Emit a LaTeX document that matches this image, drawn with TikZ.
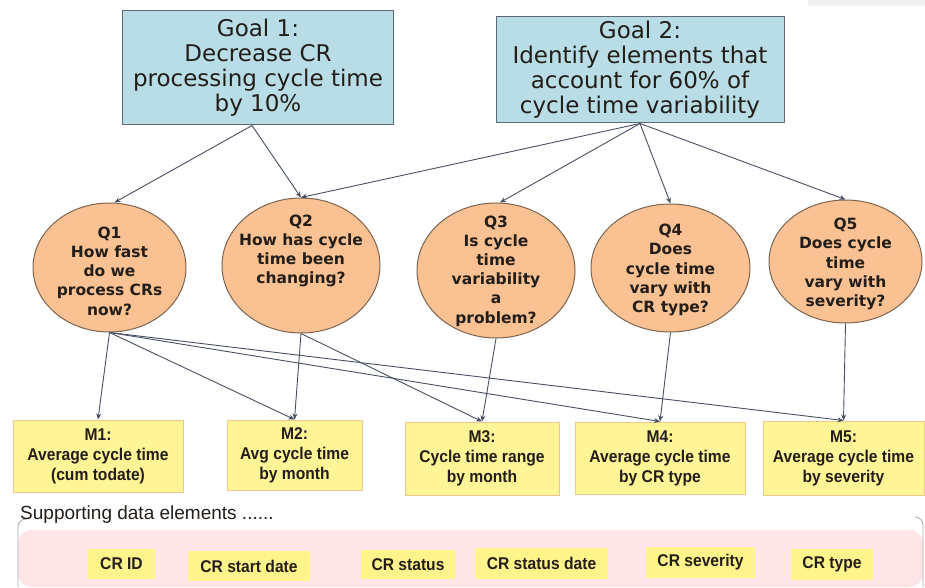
\documentclass[tikz,border=0pt]{standalone}
\usepackage{fontspec}
\setmainfont{DejaVu Sans}
\newfontfamily\mfont[FakeStretch=0.92]{Liberation Sans}
\newfontfamily\lsfont{Liberation Sans}
\usetikzlibrary{shapes.geometric,arrows.meta}
\definecolor{goalfill}{RGB}{184,221,230}
\definecolor{goalline}{RGB}{95,105,115}
\definecolor{qfill}{RGB}{250,194,146}
\definecolor{qline}{RGB}{125,100,80}
\definecolor{mfill}{RGB}{255,244,150}
\definecolor{mline}{RGB}{240,200,140}
\definecolor{dfill}{RGB}{255,244,140}
\definecolor{pinkfill}{RGB}{253,229,232}
\definecolor{lc}{RGB}{70,80,98}
\definecolor{txt}{RGB}{35,30,25}
\tikzset{
  goalbox/.style={draw=goalline, fill=goalfill, line width=1pt, inner sep=0pt,
    font=\fontsize{23}{25}\selectfont, align=center, text=txt},
  qell/.style={ellipse, draw=qline, fill=qfill, line width=1pt, inner sep=0pt},
  qtext/.style={font=\bfseries\fontsize{15.5}{19.2}\selectfont, align=center, text=txt, inner sep=0pt},
  mbox/.style={rectangle, draw=mline, fill=mfill, line width=1pt, inner sep=0pt,
    font=\mfont\bfseries\fontsize{17}{20}\selectfont, align=center, text=txt},
  ditem/.style={rectangle, fill=dfill, inner sep=0pt,
    font=\mfont\bfseries\fontsize{17}{20}\selectfont, text=txt},
  conn/.style={draw=lc, line width=0.9pt, -{Stealth[length=6pt,width=5pt]}}
}
\begin{document}
\begin{tikzpicture}[x=1pt,y=-1pt]
\useasboundingbox (0,0) rectangle (925,588);
\fill[white] (0,0) rectangle (925,588);
\fill[gray!12] (808,0) rectangle (925,6);

% goals
\node[goalbox, minimum width=271pt, minimum height=114pt] (g1) at (258,68)
  {Goal 1:\\Decrease CR\\processing cycle time\\by 10\%};
\node[goalbox, minimum width=288pt, minimum height=106pt] (g2) at (640,70)
  {Goal 2:\\Identify elements that\\account for 60\% of\\cycle time variability};

% questions
\node[qell, minimum width=153pt, minimum height=129pt] (q1) at (109.5,267.5) {};
\node[qell, minimum width=158pt, minimum height=135pt] (q2) at (301,265.5) {};
\node[qell, minimum width=158pt, minimum height=135pt] (q3) at (496,270.5) {};
\node[qell, minimum width=159pt, minimum height=128pt] (q4) at (670.5,268) {};
\node[qell, minimum width=153pt, minimum height=123pt] (q5) at (845.5,261.5) {};
\node[qtext] (q1t) at (109.5,271) {Q1\\How fast\\do we\\process CRs\\now?};
\node[qtext] (q2t) at (301,251) {Q2\\How has cycle\\time been\\changing?};
\node[qtext] (q3t) at (496,271) {Q3\\Is cycle\\time\\variability\\a\\problem?};
\node[qtext] (q4t) at (670.5,270) {Q4\\Does\\cycle time\\vary with\\CR type?};
\node[qtext] (q5t) at (845.5,264) {Q5\\Does cycle\\time\\vary with\\severity?};

% metrics
\node[mbox, minimum width=170pt, minimum height=72pt] (m1) at (98,456) {M1:\\Average cycle time\\(cum todate)};
\node[mbox, minimum width=135pt, minimum height=70pt] (m2) at (294.5,455) {M2:\\Avg cycle time\\by month};
\node[mbox, minimum width=154pt, minimum height=73pt] (m3) at (482,458.5) {M3:\\Cycle time range\\by month};
\node[mbox, minimum width=170pt, minimum height=72pt] (m4) at (660,458) {M4:\\Average cycle time\\by CR type};
\node[mbox, minimum width=161pt, minimum height=74pt] (m5) at (843.5,458) {M5:\\Average cycle time\\by severity};

% supporting data elements
\node[fill=pinkfill, rounded corners=14pt, minimum width=905pt, minimum height=57pt, inner sep=0pt] (sup) at (470.5,558.5) {};
\draw[gray!65, line width=0.8pt, rounded corners=8pt] (26,519) -| (18,587);
\draw[gray!65, line width=0.8pt, rounded corners=8pt] (915,517) -| (923,587);
\node[anchor=west, inner sep=0pt, font=\lsfont\fontsize{19}{20}\selectfont, text=txt] (suplabel) at (20,515) {Supporting data elements ......};
\node[ditem, minimum width=67pt, minimum height=30pt] (d1) at (121.5,564) {CR ID};
\node[ditem, minimum width=122pt, minimum height=30pt] (d2) at (249,566) {CR start date};
\node[ditem, minimum width=94pt, minimum height=29pt] (d3) at (408,564.5) {CR status};
\node[ditem, minimum width=133pt, minimum height=31pt] (d4) at (541.5,563.5) {CR status date};
\node[ditem, minimum width=109pt, minimum height=31pt] (d5) at (700.5,562.5) {CR severity};
\node[ditem, minimum width=82pt, minimum height=31pt] (d6) at (832,564.5) {CR type};

% connectors
\draw[conn] ([xshift=-6pt]g1.south) -- ([xshift=5pt]q1.north);
\draw[conn] ([xshift=-6pt]g1.south) -- (q2.north);
\draw[conn] (g2.south) -- (q2.north);
\draw[conn] (g2.south) -- ([xshift=4pt]q3.north);
\draw[conn] (g2.south) -- (q4.north);
\draw[conn] (g2.south) -- (q5.north);
\draw[conn] (q1.south) -- (m1.north);
\draw[conn] (q1.south) -- (m2.north);
\draw[conn] (q1.south) -- (m4.north);
\draw[conn] (q1.south) -- (m5.north);
\draw[conn] (q2.south) -- (m2.north);
\draw[conn] (q2.south) -- (m3.north);
\draw[conn] (q3.south) -- (m3.north);
\draw[conn] (q4.south) -- (m4.north);
\draw[conn] (q5.south) -- (m5.north);
\end{tikzpicture}
\end{document}
